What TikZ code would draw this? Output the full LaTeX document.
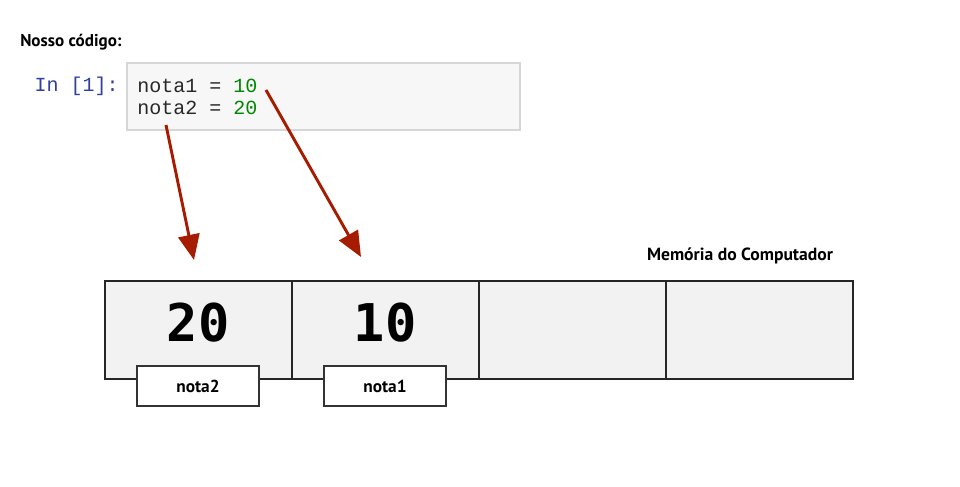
\documentclass[tikz,border=0pt]{standalone}
\usepackage{fontspec}
\setmainfont{PT Sans}
\setmonofont{Liberation Mono}
\newfontfamily\digitfont{DejaVu Sans Mono}
\usetikzlibrary{calc,arrows.meta}
\definecolor{cellGray}{RGB}{242,242,242}
\definecolor{codeGray}{RGB}{247,247,247}
\definecolor{codeLine}{RGB}{214,214,214}
\definecolor{codeText}{RGB}{40,40,40}
\definecolor{promptBlue}{RGB}{48,63,159}
\definecolor{numGreen}{RGB}{0,136,0}
\definecolor{arrowRed}{RGB}{166,28,0}
\newcommand{\CodeText}[1]{{\ttfamily\fontsize{15}{16}\selectfont #1}}
\newcommand{\BigDigits}[1]{{\digitfont\bfseries\fontsize{39}{40}\selectfont #1}}

\begin{document}
\begin{tikzpicture}[x=0.75pt,y=-0.75pt,
  memcell/.style={draw=black!85,fill=cellGray,line width=1.5pt,minimum width=140.25pt,minimum height=73.5pt,inner sep=0pt},
  namebox/.style={draw=black!80,fill=white,line width=0.9pt,minimum width=91.5pt,minimum height=30pt,inner sep=0pt,font=\bfseries\fontsize{13}{14}\selectfont},
  pointer/.style={draw=arrowRed,line width=2.2pt,-{Triangle[length=19pt,width=16pt,fill=arrowRed]}}]
\useasboundingbox (0,0) rectangle (960,486);

% titulo e celula de codigo
\node[anchor=west,inner sep=0pt,font=\bfseries\fontsize{12.8}{13}\selectfont] (title) at (20,42) {Nosso código:};
\node[draw=codeLine,fill=codeGray,line width=0.8pt,minimum width=294.75pt,minimum height=50.25pt,inner sep=0pt] (codebox) at (323.5,96.5) {};
\node[anchor=east,inner sep=0pt,text=promptBlue] (prompt) at (119,86) {\CodeText{In [1]:}};
\node[anchor=west,inner sep=0pt,text=codeText] (line1) at (137,86) {\CodeText{nota1 = \textcolor{numGreen}{10}}};
\node[anchor=west,inner sep=0pt,text=codeText] (line2) at (137,108) {\CodeText{nota2 = \textcolor{numGreen}{20}}};

% memoria
\node[font=\bfseries\fontsize{13.2}{14}\selectfont,inner sep=0pt] (memlabel) at (740,256) {Memória do Computador};
\node[memcell] (cellA) at (198.5,330) {};
\node[memcell] (cellB) at (385.5,330) {};
\node[memcell] (cellC) at (572.5,330) {};
\node[memcell] (cellD) at (759.5,330) {};
\node[inner sep=0pt] (valA) at (198,323) {\BigDigits{20}};
\node[inner sep=0pt] (valB) at (385,323) {\BigDigits{10}};
\node[namebox] (nameA) at (198,386) {nota2};
\node[namebox] (nameB) at (385,386) {nota1};

% ponteiros
\coordinate (fromA) at (166,125);
\coordinate (toA) at (194,260);
\coordinate (fromB) at (266,90);
\coordinate (toB) at (361,257);
\draw[pointer] (fromA) -- (toA);
\draw[pointer] (fromB) -- (toB);
\end{tikzpicture}
\end{document}
